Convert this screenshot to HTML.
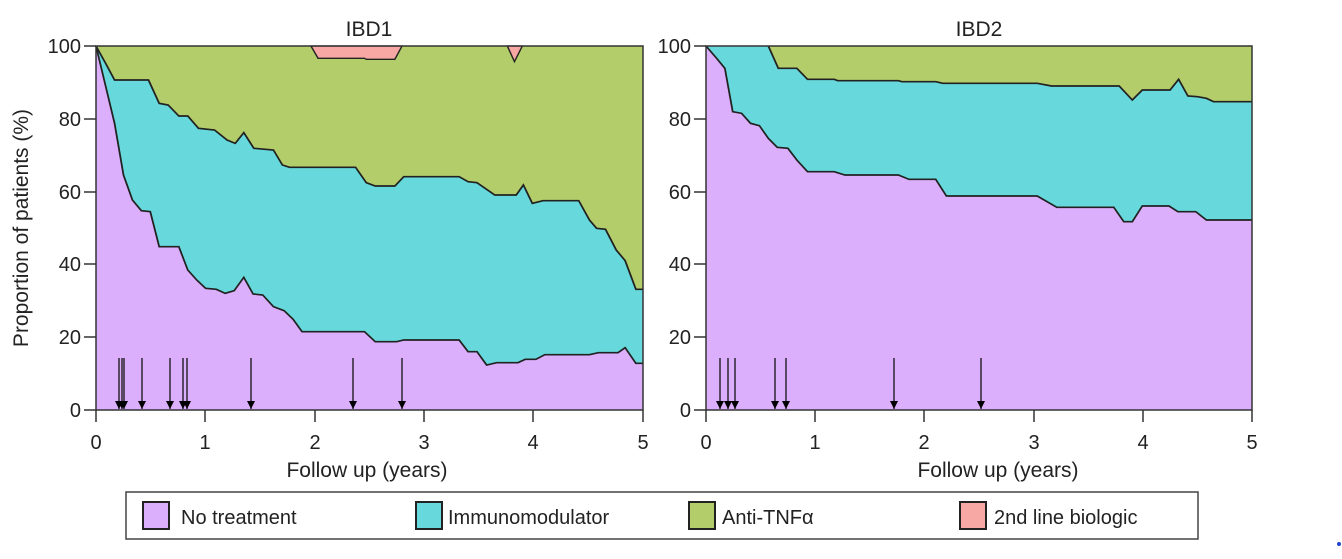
<!DOCTYPE html>
<html><head><meta charset="utf-8"><style>
html,body{margin:0;padding:0;background:#fff;}
svg{display:block;font-family:"Liberation Sans",Arial,sans-serif;}
</style></head><body>
<svg width="1342" height="559" viewBox="0 0 1342 559" xmlns="http://www.w3.org/2000/svg">
<defs>
<marker id="ah" markerWidth="10" markerHeight="10" viewBox="-1 -5 10 10" refX="8" refY="0" orient="auto" markerUnits="userSpaceOnUse">
<path d="M0,-4 L8,0 L0,4 Z" fill="#000"/>
</marker>
</defs>
<!-- Panel 1 -->
<g transform="translate(96,46) scale(0.35705,0.33333) translate(-18,-18)">
<rect x="18" y="18" width="1532" height="1092" fill="#b2cd6a"/>
<polygon fill="#67d9dc" points="18,18 45,70 70,120 165,120 195,190 220,195 250,228 275,228 305,265 350,270 385,300 408,310 432,278 460,325 515,330 540,375 560,382 745,382 775,428 800,438 855,438 880,410 1035,410 1060,425 1085,428 1135,465 1195,465 1215,435 1240,490 1270,482 1370,482 1400,540 1420,565 1445,568 1475,630 1500,662 1530,748 1550,748 1550,1110 18,1110"/>
<polygon fill="#dbaffc" points="18,18 70,250 95,405 120,480 145,512 170,515 195,620 250,620 275,690 300,720 325,745 355,748 380,760 405,752 432,712 458,762 485,765 515,800 545,812 570,838 595,875 770,875 800,905 860,905 880,900 1035,900 1060,935 1085,935 1112,975 1140,968 1200,968 1220,958 1250,958 1275,944 1400,944 1425,938 1480,938 1500,923 1530,970 1550,970 1550,1110 18,1110"/>
<polygon fill="#f8a8a4" stroke="#222" stroke-width="4" points="620,18 640,55 770,55 775,58 855,58 875,18"/>
<polygon fill="#f8a8a4" stroke="#222" stroke-width="4" points="1170,18 1190,65 1212,18"/>
<polyline fill="none" stroke="#222" stroke-width="5" points="18,18 45,70 70,120 165,120 195,190 220,195 250,228 275,228 305,265 350,270 385,300 408,310 432,278 460,325 515,330 540,375 560,382 745,382 775,428 800,438 855,438 880,410 1035,410 1060,425 1085,428 1135,465 1195,465 1215,435 1240,490 1270,482 1370,482 1400,540 1420,565 1445,568 1475,630 1500,662 1530,748 1550,748"/>
<polyline fill="none" stroke="#222" stroke-width="5" points="18,18 70,250 95,405 120,480 145,512 170,515 195,620 250,620 275,690 300,720 325,745 355,748 380,760 405,752 432,712 458,762 485,765 515,800 545,812 570,838 595,875 770,875 800,905 860,905 880,900 1035,900 1060,935 1085,935 1112,975 1140,968 1200,968 1220,958 1250,958 1275,944 1400,944 1425,938 1480,938 1500,923 1530,970 1550,970"/>
</g>
<!-- Panel 2 -->
<g transform="translate(706,46) scale(0.35616,0.33333) translate(-15,-18)">
<rect x="15" y="18" width="1533" height="1092" fill="#b2cd6a"/>
<polygon fill="#67d9dc" points="15,18 190,18 218,85 270,85 300,118 375,118 385,122 555,122 565,125 660,125 680,130 945,130 985,138 1175,138 1212,180 1240,150 1318,150 1342,118 1368,168 1395,170 1420,175 1440,185 1548,185 1548,1110 15,1110"/>
<polygon fill="#dbaffc" points="15,18 45,55 68,85 90,215 115,220 140,250 165,257 190,295 215,322 245,325 270,360 300,395 375,395 405,405 555,405 585,418 660,418 690,468 945,468 1000,502 1160,502 1188,545 1212,545 1240,498 1315,498 1340,515 1390,515 1420,540 1548,540 1548,1110 15,1110"/>
<polyline fill="none" stroke="#222" stroke-width="5" points="190,18 218,85 270,85 300,118 375,118 385,122 555,122 565,125 660,125 680,130 945,130 985,138 1175,138 1212,180 1240,150 1318,150 1342,118 1368,168 1395,170 1420,175 1440,185 1548,185"/>
<polyline fill="none" stroke="#222" stroke-width="5" points="15,18 45,55 68,85 90,215 115,220 140,250 165,257 190,295 215,322 245,325 270,360 300,395 375,395 405,405 555,405 585,418 660,418 690,468 945,468 1000,502 1160,502 1188,545 1212,545 1240,498 1315,498 1340,515 1390,515 1420,540 1548,540"/>
</g>
<!-- arrows -->
<g stroke="#111" stroke-width="1.3" marker-end="url(#ah)">
<line x1="119" y1="358" x2="119" y2="409"/><line x1="122" y1="358" x2="122" y2="409"/><line x1="124" y1="358" x2="124" y2="409"/>
<line x1="142" y1="358" x2="142" y2="409"/><line x1="170" y1="358" x2="170" y2="409"/><line x1="183" y1="358" x2="183" y2="409"/>
<line x1="187" y1="358" x2="187" y2="409"/><line x1="251" y1="358" x2="251" y2="409"/><line x1="353" y1="358" x2="353" y2="409"/>
<line x1="402" y1="358" x2="402" y2="409"/>
<line x1="720" y1="358" x2="720" y2="409"/><line x1="728" y1="358" x2="728" y2="409"/><line x1="735" y1="358" x2="735" y2="409"/>
<line x1="775" y1="358" x2="775" y2="409"/><line x1="786" y1="358" x2="786" y2="409"/><line x1="894" y1="358" x2="894" y2="409"/>
<line x1="981" y1="358" x2="981" y2="409"/>
</g>
<!-- frames & ticks -->
<g fill="none" stroke="#333" stroke-width="1.5">
<rect x="96" y="46" width="547" height="364"/>
<rect x="706" y="46" width="546" height="364"/>
<path d="M84,46H96M84,119H96M84,192H96M84,264H96M84,337H96M84,410H96"/>
<path d="M694,46H706M694,119H706M694,192H706M694,264H706M694,337H706M694,410H706"/>
<path d="M96,410V422M205,410V422M315,410V422M424,410V422M533,410V422M643,410V422"/>
<path d="M706,410V422M815,410V422M924,410V422M1034,410V422M1143,410V422M1252,410V422"/>
</g>
<g font-size="20" fill="#222" text-anchor="end">
<text x="81" y="53">100</text><text x="81" y="126">80</text><text x="81" y="199">60</text><text x="81" y="271">40</text><text x="81" y="344">20</text><text x="81" y="417">0</text>
<text x="691" y="53">100</text><text x="691" y="126">80</text><text x="691" y="199">60</text><text x="691" y="271">40</text><text x="691" y="344">20</text><text x="691" y="417">0</text>
</g>
<g font-size="20" fill="#222" text-anchor="middle">
<text x="96" y="449">0</text><text x="205" y="449">1</text><text x="315" y="449">2</text><text x="424" y="449">3</text><text x="533" y="449">4</text><text x="643" y="449">5</text>
<text x="706" y="449">0</text><text x="815" y="449">1</text><text x="924" y="449">2</text><text x="1034" y="449">3</text><text x="1143" y="449">4</text><text x="1252" y="449">5</text>
</g>
<g font-size="21" fill="#222" text-anchor="middle">
<text x="367" y="477">Follow up (years)</text>
<text x="998" y="477">Follow up (years)</text>
<text x="369" y="36">IBD1</text>
<text x="979" y="36">IBD2</text>
<text transform="translate(28,228) rotate(-90)">Proportion of patients (%)</text>
</g>
<!-- legend -->
<rect x="126" y="492" width="1072" height="47" fill="#fff" stroke="#444" stroke-width="1.5"/>
<g stroke="#222" stroke-width="2">
<rect x="143" y="502" width="26" height="27" fill="#dbaffc"/>
<rect x="416" y="502" width="26" height="27" fill="#67d9dc"/>
<rect x="689" y="502" width="26" height="27" fill="#b2cd6a"/>
<rect x="960" y="502" width="26" height="27" fill="#f8a8a4"/>
</g>
<g font-size="20" fill="#222">
<text x="181" y="524">No treatment</text>
<text x="448" y="524">Immunomodulator</text>
<text x="722" y="524">Anti-TNFα</text>
<text x="994" y="524">2nd line biologic</text>
</g>
<circle cx="1339" cy="544" r="2" fill="#2244cc"/>
</svg>
</body></html>
